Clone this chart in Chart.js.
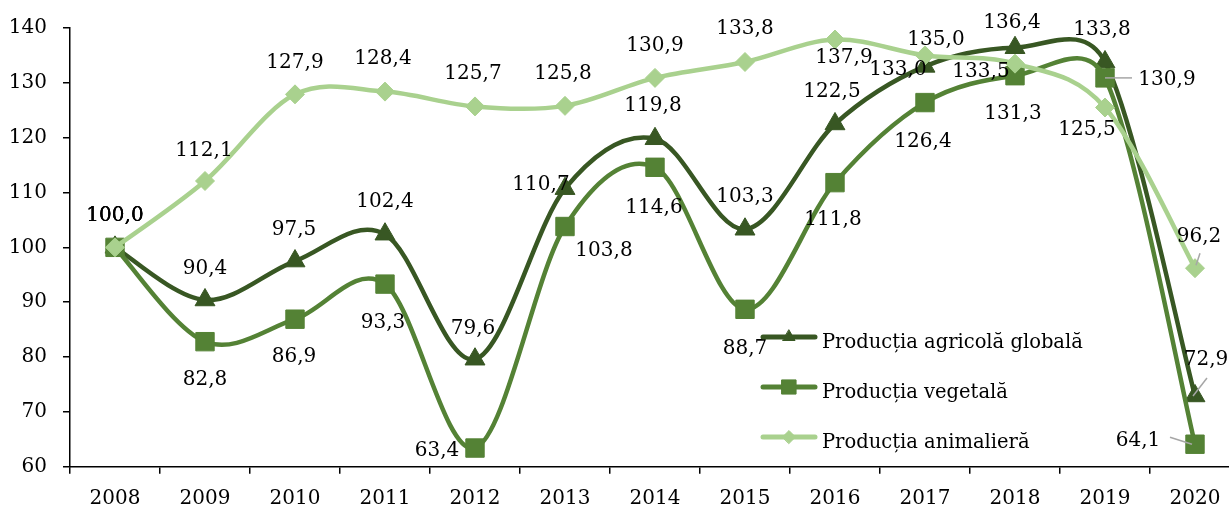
<!DOCTYPE html>
<html>
<head>
<meta charset="utf-8">
<script src="https://cdn.jsdelivr.net/npm/chart.js@4.4.0/dist/chart.umd.min.js"></script>
<style>
  html, body { margin: 0; padding: 0; background: #fff; overflow: hidden; }
  #wrap { width: 1240px; height: 508px; }
  #productionChart { display: block; width: 1240px; height: 508px; }
</style>
</head>
<body>
<div id="wrap"><canvas id="productionChart" width="1240" height="508"></canvas></div>
<script>
// values (index 2008 = 100)
const years = ['2008', '2009', '2010', '2011', '2012', '2013', '2014', '2015', '2016', '2017', '2018', '2019', '2020'];
const globalProd = [100.0, 90.4, 97.5, 102.4, 79.6, 110.7, 119.8, 103.3, 122.5, 133.0, 136.4, 133.8, 72.9];
const vegetalProd = [100.0, 82.8, 86.9, 93.3, 63.4, 103.8, 114.6, 88.7, 111.8, 126.4, 131.3, 130.9, 64.1];
const animalProd = [100.0, 112.1, 127.9, 128.4, 125.7, 125.8, 130.9, 133.8, 137.9, 135.0, 133.5, 125.5, 96.2];
const seriesNames = ['Producția agricolă globală', 'Producția vegetală', 'Producția animalieră'];
const yMin = 60, yMax = 140, yStep = 10;

const DARK = '#385723';
const MID = '#548235';
const LIGHT = '#a9d18e';
const FONT = 'DejaVu Serif';

// where each value label sits, relative to its point (dx, dy of the text centre)
const labelOffsets = [
  [[0,-34],[0,-33],[-1,-33],[0,-34],[-2,-33],[-24,-6],[-2,-35],[0,-35],[-3,-34],[-27,1],[-3,-27],[-3,-34],[11,-38]],
  [[0,-34],[0,36],[-1,36],[-2,37],[-38,1],[39,22],[-1,38],[0,37],[-2,35],[-2,37],[-2,36],[62,0],[-57,-6]],
  [[0,-34],[-1,-32],[0,-34],[-2,-35],[-2,-35],[-2,-34],[0,-34],[0,-35],[9,16],[11,-18],[-34,6],[-18,20],[4,-33]]
];
// leader lines: [dx1, dy1, dx2, dy2] relative to the point
const leaderLines = [
  { 12: [-2, 0, 12, -18] },
  { 11: [0, 0, 27, 0], 12: [-25, -7, -3, 0] },
  { 12: [1, -3, 5, -15] }
];

const fmt = v => v.toFixed(1).replace('.', ',');

// office-style smoothing: catmull-rom arms (1/6 of the chord), kept to half the neighbouring segment
const officeSmooth = {
  id: 'officeSmooth',
  beforeDatasetDraw(chart, args) {
    const meta = args.meta;
    const pts = meta.data;
    const n = pts.length;
    for (let i = 0; i < n; i++) {
      const p = pts[i];
      const prev = pts[Math.max(i - 1, 0)];
      const next = pts[Math.min(i + 1, n - 1)];
      const dx = (next.x - prev.x) / 6;
      const dy = (next.y - prev.y) / 6;
      const arm = Math.hypot(dx, dy);
      let s1 = 1, s2 = 1;
      if (arm > 0) {
        s1 = Math.min(1, 0.5 * Math.hypot(p.x - prev.x, p.y - prev.y) / arm);
        s2 = Math.min(1, 0.5 * Math.hypot(next.x - p.x, next.y - p.y) / arm);
      }
      p.cp1x = p.x - dx * s1;
      p.cp1y = p.y - dy * s1;
      p.cp2x = p.x + dx * s2;
      p.cp2y = p.y + dy * s2;
    }
    meta.dataset._pointsUpdated = true;
  }
};

const valueLabels = {
  id: 'valueLabels',
  afterDatasetsDraw(chart) {
    const ctx = chart.ctx;
    ctx.save();
    chart.data.datasets.forEach((ds, i) => {
      const meta = chart.getDatasetMeta(i);
      meta.data.forEach((pt, j) => {
        const lead = leaderLines[i][j];
        if (lead) {
          ctx.strokeStyle = '#a6a6a6';
          ctx.lineWidth = 1.5;
          ctx.beginPath();
          ctx.moveTo(pt.x + lead[0], pt.y + lead[1]);
          ctx.lineTo(pt.x + lead[2], pt.y + lead[3]);
          ctx.stroke();
        }
      });
    });
    ctx.font = '20px "' + FONT + '"';
    ctx.fillStyle = '#000';
    ctx.textAlign = 'center';
    ctx.textBaseline = 'alphabetic';
    chart.data.datasets.forEach((ds, i) => {
      const meta = chart.getDatasetMeta(i);
      meta.data.forEach((pt, j) => {
        const off = labelOffsets[i][j];
        ctx.fillText(fmt(ds.data[j]), pt.x + off[0], pt.y + off[1] + 7.3);
      });
    });
    ctx.restore();
  }
};

// legend drawn inside the plot area, like the original
const insideLegend = {
  id: 'insideLegend',
  afterDraw(chart) {
    const ctx = chart.ctx;
    const rows = [337, 387, 437];
    const markers = [
      { style: 'triangle', r: 7 },
      { style: 'rect', r: 10 },
      { style: 'rectRot', r: 6.5 }
    ];
    ctx.save();
    chart.data.datasets.forEach((ds, i) => {
      const y = rows[i];
      ctx.strokeStyle = ds.borderColor;
      ctx.lineWidth = 5;
      ctx.lineCap = 'round';
      ctx.beginPath();
      ctx.moveTo(763, y);
      ctx.lineTo(815, y);
      ctx.stroke();
      ctx.fillStyle = ds.borderColor;
      ctx.lineWidth = 1;
      Chart.helpers.drawPoint(ctx, { pointStyle: markers[i].style, radius: markers[i].r, borderWidth: 1, rotation: 0 }, 789, y);
      ctx.fillStyle = '#000';
      ctx.font = '19.5px "' + FONT + '"';
      ctx.textAlign = 'left';
      ctx.textBaseline = 'alphabetic';
      ctx.fillText(ds.label, 822, y + 11);
    });
    ctx.restore();
  }
};

const tickFont = { family: FONT, size: 20 };

new Chart(document.getElementById('productionChart'), {
  type: 'line',
  data: {
    labels: years,
    datasets: [
      {
        label: seriesNames[0], data: globalProd,
        borderColor: DARK, backgroundColor: DARK, pointBorderColor: DARK,
        borderWidth: 4.5, tension: 0.4,
        pointStyle: 'triangle', pointRadius: 11.5, pointBorderWidth: 1,
        order: 3
      },
      {
        label: seriesNames[1], data: vegetalProd,
        borderColor: MID, backgroundColor: MID, pointBorderColor: MID,
        borderWidth: 4.5, tension: 0.4,
        pointStyle: 'rect', pointRadius: 13, pointBorderWidth: 1,
        order: 2
      },
      {
        label: seriesNames[2], data: animalProd,
        borderColor: LIGHT, backgroundColor: LIGHT, pointBorderColor: LIGHT,
        borderWidth: 4.5, tension: 0.4,
        pointStyle: 'rectRot', pointRadius: 9.5, pointBorderWidth: 1,
        order: 1
      }
    ]
  },
  options: {
    responsive: false,
    animation: false,
    events: [],
    // the canvas is a bit wider than the window: the plot runs past the right edge, as in the original
    layout: { autoPadding: false, padding: { top: 23.5, right: 0, left: 0, bottom: 0 } },
    plugins: {
      legend: { display: false },
      tooltip: { enabled: false }
    },
    scales: {
      x: {
        offset: true,
        grid: { display: true, offset: true, drawOnChartArea: false, drawTicks: true, tickLength: 7, color: '#000', lineWidth: 1.5 },
        border: { display: true, color: '#000', width: 1.5 },
        ticks: { font: tickFont, color: '#000', padding: 13, maxRotation: 0, autoSkip: false },
        afterFit: s => { s.height = 41.3; }
      },
      y: {
        min: yMin,
        max: yMax,
        grid: { display: true, drawOnChartArea: false, drawTicks: true, tickLength: 7, color: '#000', lineWidth: 1.5 },
        border: { display: true, color: '#000', width: 1.5 },
        ticks: { stepSize: yStep, font: tickFont, color: '#000', padding: 16 },
        afterFit: s => { s.width = 70; }
      }
    }
  },
  plugins: [officeSmooth, valueLabels, insideLegend]
});
</script>
</body>
</html>
